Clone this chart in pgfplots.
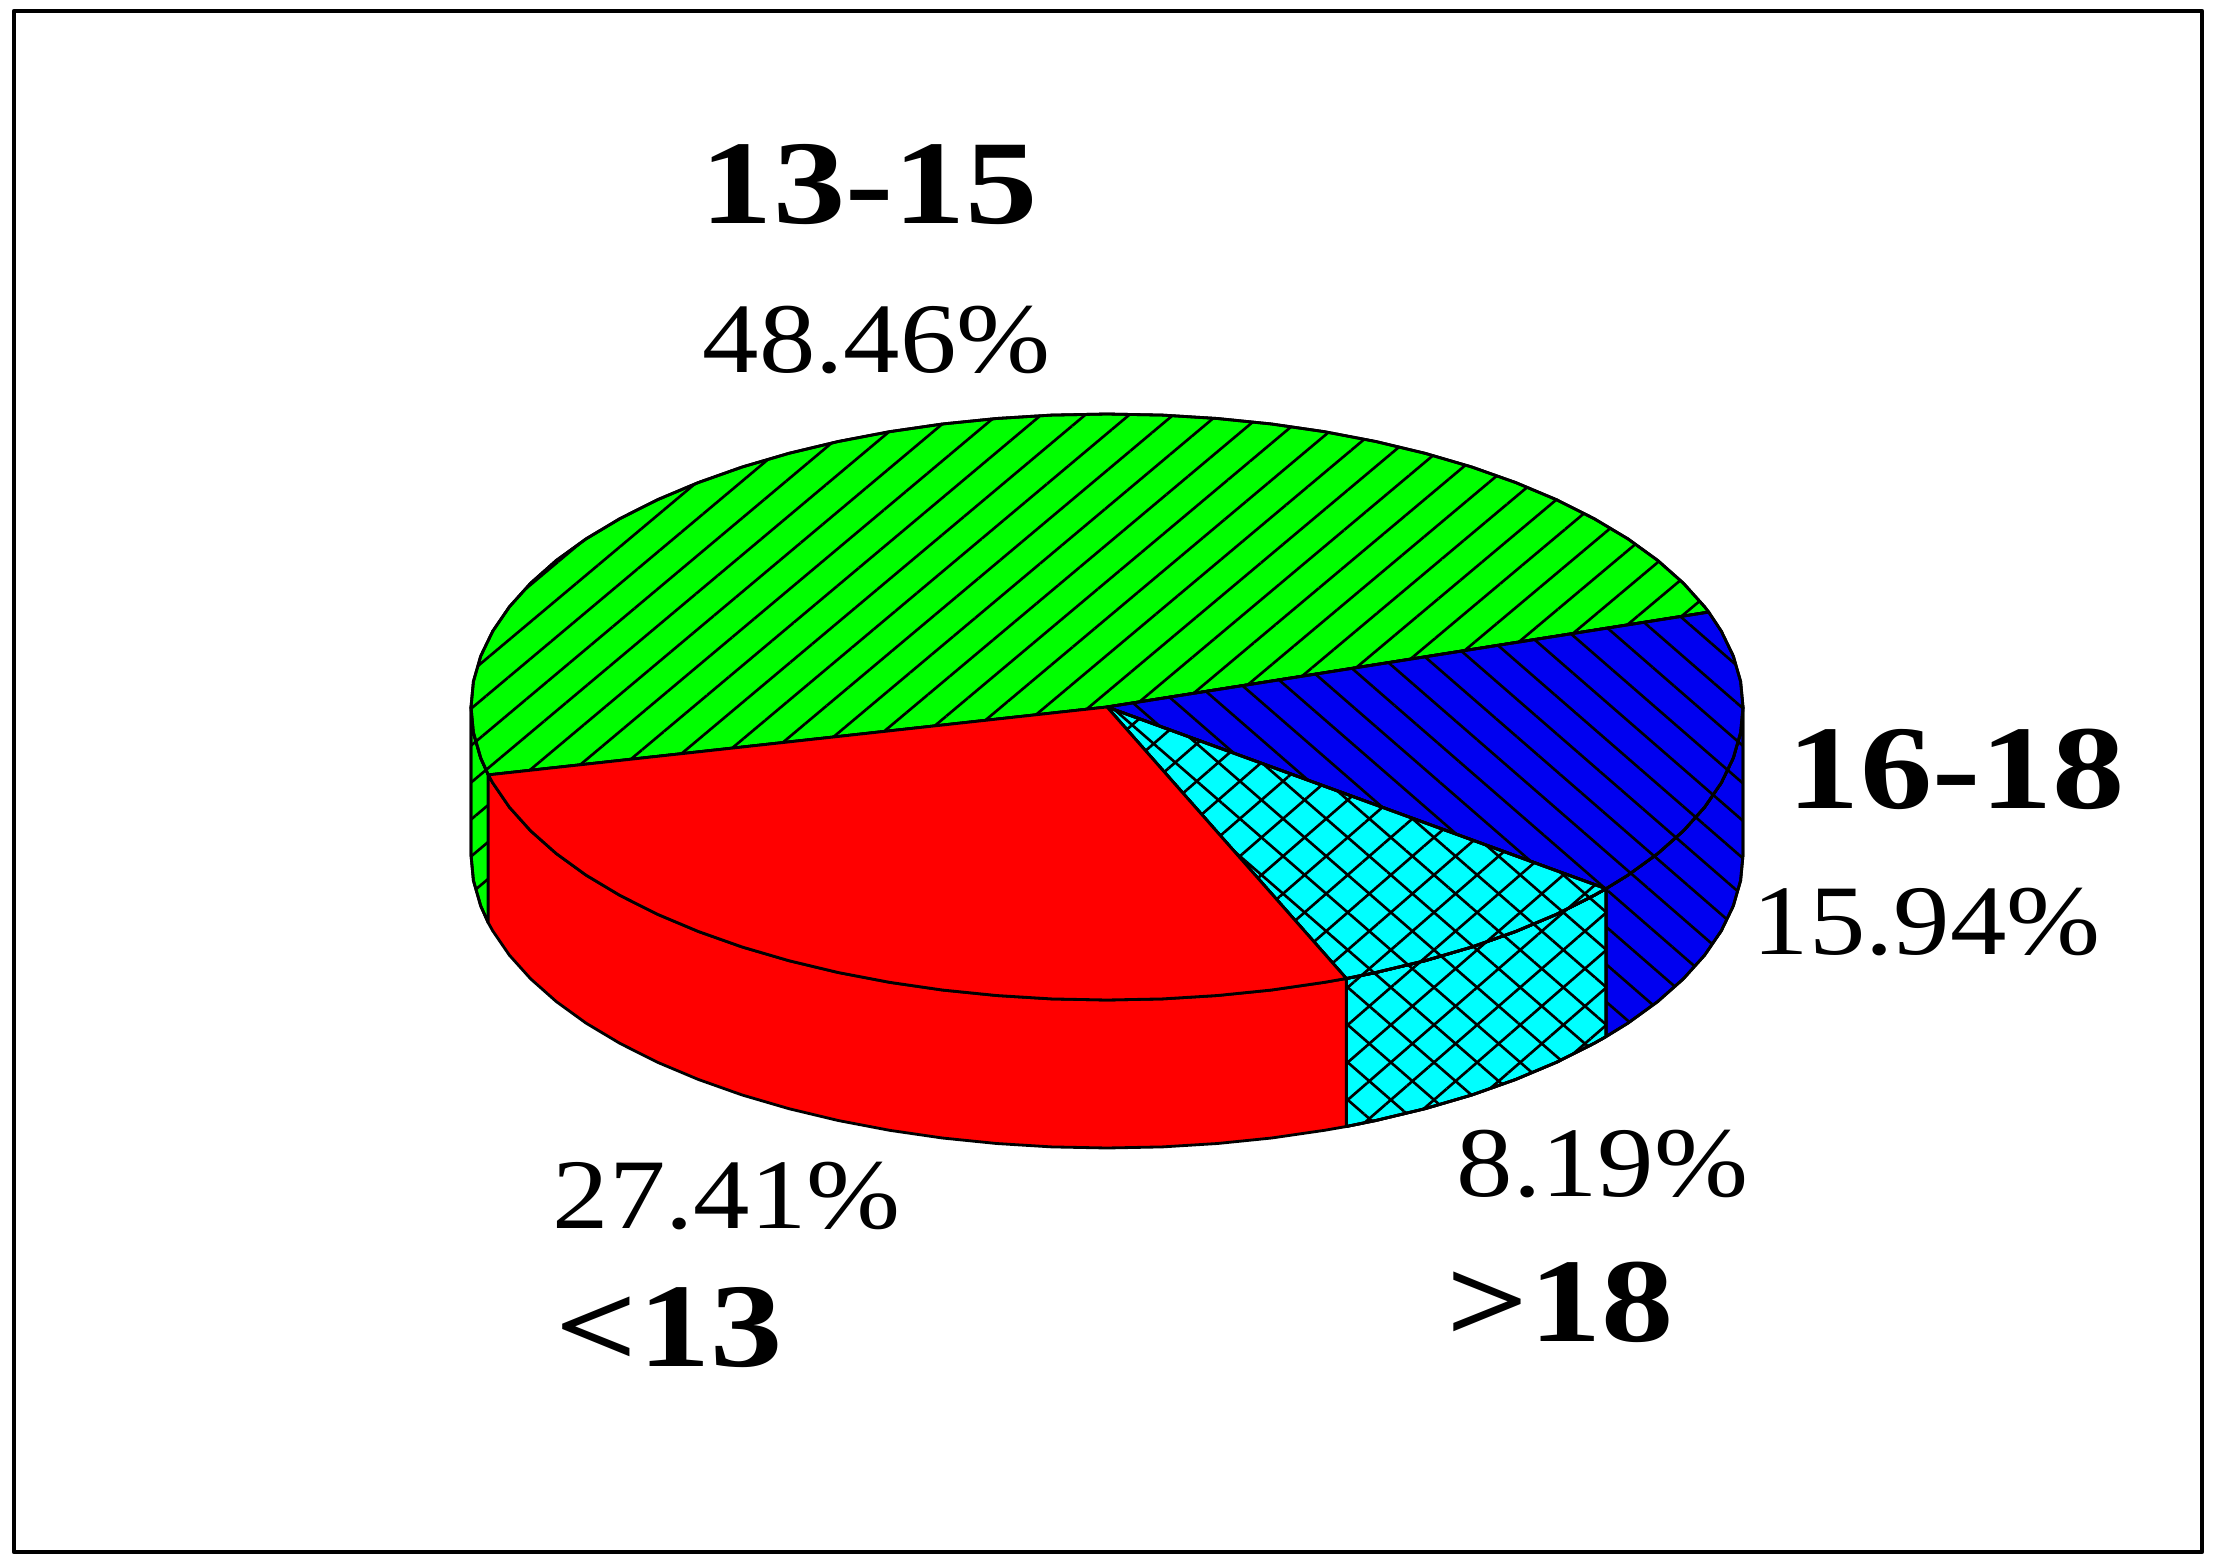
\documentclass[border=0pt]{standalone}
\usepackage{fontspec}
\setmainfont{Liberation Serif}
\usepackage{pgfplots}
\pgfplotsset{compat=1.18}
\usetikzlibrary{patterns.meta}
\definecolor{pgreen}{RGB}{0,255,0}
\definecolor{pblue}{RGB}{0,0,240}
\definecolor{pcyan}{RGB}{0,255,255}
\definecolor{pred}{RGB}{255,0,0}
\tikzset{
 greenh/.style={postaction={pattern={Lines[angle=40,distance=8.05pt,line width=.75pt,yshift=5.94pt]},pattern color=black}},
 blueh/.style={postaction={pattern={Lines[angle=-41,distance=8.05pt,line width=.75pt,yshift=3.7pt]},pattern color=black}},
 cyanh/.style={postaction={pattern={Lines[angle=41,distance=8.05pt,line width=.75pt,yshift=2.51pt]},pattern color=black},
   postaction={pattern={Lines[angle=-41,distance=8.05pt,line width=.75pt,yshift=7.88pt]},pattern color=black}},
}
\newcommand{\pct}[1]{\scalebox{1.13}[1]{\fontsize{28.4pt}{30pt}\selectfont #1}}
\newcommand{\lab}[1]{\scalebox{1.21}[1]{\fontsize{34pt}{36pt}\selectfont\bfseries #1}}
\begin{document}
\begin{tikzpicture}
\begin{axis}[
  at={(0,0)},anchor=south west,
  width=22.17cm,height=15.68cm,scale only axis,
  xmin=0,xmax=2217,ymin=0,ymax=1568,y dir=reverse,
  axis lines=none,clip=false,
  every axis plot/.append style={line width=.8pt,draw=black,mark=none,line join=round},
]
\addplot[draw=none,fill=none] coordinates {(0,0)(2217,1568)};
% frame
\addplot[line width=1.3pt,fill=white] coordinates {(14,11)(2202,11)(2202,1552)(14,1552)} --cycle;
% green side
\addplot[fill=pgreen,greenh] coordinates {(471,707)(473.4,732.5)(480.7,757.9)(488.3,774.9)(488.3,922.9)(480.7,905.9)(473.4,880.5)(471,855)} --cycle;
% blue side
\addplot[fill=pblue,blueh] coordinates {(1605.9,888.7)(1628,875.1)(1657.8,853.5)(1683.4,830.8)(1704.6,807.2)(1721.3,782.8)(1733.3,757.9)(1740.6,732.5)(1743,707)(1743,855)(1740.6,880.5)(1733.3,905.9)(1721.3,930.8)(1704.6,955.2)(1683.4,978.8)(1657.8,1001.5)(1628,1023.1)(1605.9,1036.7)} --cycle;
% cyan side
\addplot[fill=pcyan,cyanh] coordinates {(1346.3,978.5)(1375.8,972.5)(1425,960.7)(1471.8,947)(1515.8,931.4)(1556.7,914.2)(1594.2,895.3)(1605.9,888.7)(1605.9,1036.7)(1594.2,1043.3)(1556.7,1062.2)(1515.8,1079.4)(1471.8,1095)(1425,1108.7)(1375.8,1120.5)(1346.3,1126.5)} --cycle;
% red side
\addplot[fill=pred] coordinates {(488.3,774.9)(492.7,782.8)(509.4,807.2)(530.6,830.8)(556.2,853.5)(586,875.1)(619.8,895.3)(657.3,914.2)(698.2,931.4)(742.2,947)(789,960.7)(838.2,972.5)(889.5,982.3)(942.4,990)(996.6,995.5)(1051.6,998.9)(1107,1000)(1162.4,998.9)(1217.4,995.5)(1271.6,990)(1324.5,982.3)(1346.3,978.5)(1346.3,1126.5)(1324.5,1130.3)(1271.6,1138)(1217.4,1143.5)(1162.4,1146.9)(1107,1148)(1051.6,1146.9)(996.6,1143.5)(942.4,1138)(889.5,1130.3)(838.2,1120.5)(789,1108.7)(742.2,1095)(698.2,1079.4)(657.3,1062.2)(619.8,1043.3)(586,1023.1)(556.2,1001.5)(530.6,978.8)(509.4,955.2)(492.7,930.8)(488.3,922.9)} --cycle;
% green top
\addplot[fill=pgreen,greenh] coordinates {(1107,707)(1708.7,612.1)(1704.6,606.8)(1683.4,583.2)(1657.8,560.5)(1628,538.9)(1594.2,518.7)(1556.7,499.8)(1515.8,482.6)(1471.8,467)(1425,453.3)(1375.8,441.5)(1324.5,431.7)(1271.6,424)(1217.4,418.5)(1162.4,415.1)(1107,414)(1051.6,415.1)(996.6,418.5)(942.4,424)(889.5,431.7)(838.2,441.5)(789,453.3)(742.2,467)(698.2,482.6)(657.3,499.8)(619.8,518.7)(586,538.9)(556.2,560.5)(530.6,583.2)(509.4,606.8)(492.7,631.2)(480.7,656.1)(473.4,681.5)(471,707)(473.4,732.5)(480.7,757.9)(488.3,774.9)} --cycle;
% blue top
\addplot[fill=pblue,blueh] coordinates {(1107,707)(1605.9,888.7)(1628,875.1)(1657.8,853.5)(1683.4,830.8)(1704.6,807.2)(1721.3,782.8)(1733.3,757.9)(1740.6,732.5)(1743,707)(1740.6,681.5)(1733.3,656.1)(1721.3,631.2)(1708.7,612.1)} --cycle;
% cyan top
\addplot[fill=pcyan,cyanh] coordinates {(1107,707)(1346.3,978.5)(1375.8,972.5)(1425,960.7)(1471.8,947)(1515.8,931.4)(1556.7,914.2)(1594.2,895.3)(1605.9,888.7)} --cycle;
% red top
\addplot[fill=pred] coordinates {(1107,707)(488.3,774.9)(492.7,782.8)(509.4,807.2)(530.6,830.8)(556.2,853.5)(586,875.1)(619.8,895.3)(657.3,914.2)(698.2,931.4)(742.2,947)(789,960.7)(838.2,972.5)(889.5,982.3)(942.4,990)(996.6,995.5)(1051.6,998.9)(1107,1000)(1162.4,998.9)(1217.4,995.5)(1271.6,990)(1324.5,982.3)(1346.3,978.5)} --cycle;
% labels
\node[anchor=base west,inner sep=0pt] at (axis cs:700,224) {\lab{13-15}};
\node[anchor=base west,inner sep=0pt] at (axis cs:702,373) {\pct{48.46\%}};
\node[anchor=base west,inner sep=0pt] at (axis cs:1787,808) {\lab{16-18}};
\node[anchor=base west,inner sep=0pt] at (axis cs:1752,954) {\pct{15.94\%}};
\node[anchor=base west,inner sep=0pt] at (axis cs:1456,1196) {\pct{8.19\%}};
\node[anchor=base west,inner sep=0pt] at (axis cs:1446,1341) {\lab{>18}};
\node[anchor=base west,inner sep=0pt] at (axis cs:552,1228) {\pct{27.41\%}};
\node[anchor=base west,inner sep=0pt] at (axis cs:555,1366) {\lab{<13}};
\end{axis}
\end{tikzpicture}
\end{document}
